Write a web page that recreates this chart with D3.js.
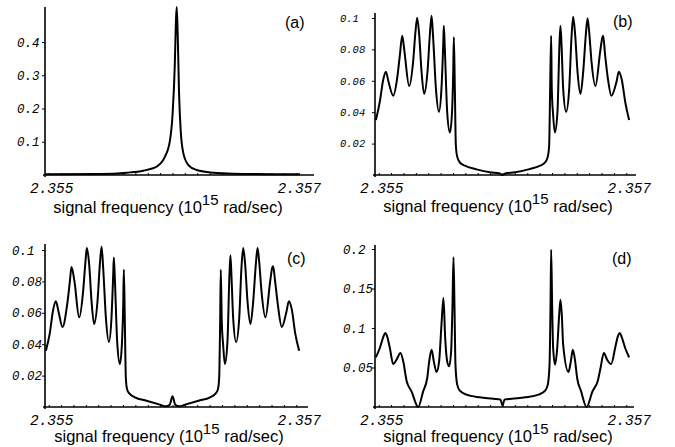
<!DOCTYPE html>
<html>
<head>
<meta charset="utf-8">
<script src="https://cdn.jsdelivr.net/npm/d3@7"></script>
<style>
  body { margin: 0; background: #fff; }
  svg { display: block; }
</style>
</head>
<body>
<div id="chart"></div>
<script>
// frequency axis (10^15 rad/sec) and its labelled ticks
const freqDomain = [2.35497, 2.35703];
const xTickLabels = [2.355, 2.357];

const yTicksA = [0.1, 0.2, 0.3, 0.4];
const yTicksB = [0.02, 0.04, 0.06, 0.08, 0.1];
const yTicksC = [0.02, 0.04, 0.06, 0.08, 0.1];
const yTicksD = [0.05, 0.1, 0.15, 0.2];

// [frequency, signal]
const panelA = [
  [2.354970, 0.002], [2.355414, 0.003], [2.355630, 0.007], [2.355764, 0.013], [2.355872, 0.025],
  [2.355939, 0.055], [2.355980, 0.105], [2.356001, 0.185], [2.356018, 0.325], [2.356028, 0.465],
  [2.356034, 0.505], [2.356042, 0.425], [2.356053, 0.245], [2.356066, 0.135], [2.356088, 0.065],
  [2.356128, 0.030], [2.356195, 0.015], [2.356330, 0.007], [2.356491, 0.004], [2.357030, 0.002]
];

const panelB = [
  [2.354977, 0.0350], [2.355009, 0.0467], [2.355036, 0.0605], [2.355058, 0.0658], [2.355079, 0.0594],
  [2.355117, 0.0505], [2.355149, 0.0616], [2.355171, 0.0764], [2.355190, 0.0887], [2.355208, 0.0786],
  [2.355246, 0.0567], [2.355278, 0.0722], [2.355297, 0.0913], [2.355311, 0.1002], [2.355327, 0.0892],
  [2.355346, 0.0658], [2.355367, 0.0516], [2.355394, 0.0658], [2.355413, 0.0892], [2.355427, 0.1015],
  [2.355440, 0.0870], [2.355462, 0.0552], [2.355486, 0.0403], [2.355507, 0.0552], [2.355521, 0.0828],
  [2.355526, 0.0951], [2.355534, 0.0807], [2.355553, 0.0403], [2.355575, 0.0270], [2.355591, 0.0382],
  [2.355602, 0.0658], [2.355607, 0.0877], [2.355615, 0.0552], [2.355623, 0.0191], [2.355634, 0.0117],
  [2.355655, 0.0081], [2.355696, 0.0059], [2.355790, 0.0036], [2.355898, 0.0017], [2.355978, 0.0010],
  [2.356000, 0.0000],
  [2.356022, 0.0010], [2.356102, 0.0017], [2.356210, 0.0036], [2.356304, 0.0059], [2.356345, 0.0081],
  [2.356366, 0.0117], [2.356377, 0.0191], [2.356385, 0.0552], [2.356393, 0.0887], [2.356398, 0.0552],
  [2.356409, 0.0382], [2.356423, 0.0270], [2.356444, 0.0403], [2.356460, 0.0828], [2.356468, 0.0951],
  [2.356477, 0.0828], [2.356490, 0.0552], [2.356514, 0.0403], [2.356539, 0.0552], [2.356557, 0.0870],
  [2.356571, 0.1008], [2.356587, 0.0892], [2.356606, 0.0658], [2.356630, 0.0516], [2.356652, 0.0658],
  [2.356673, 0.0892], [2.356687, 0.0998], [2.356700, 0.0913], [2.356719, 0.0722], [2.356751, 0.0567],
  [2.356789, 0.0786], [2.356805, 0.0870], [2.356813, 0.0887], [2.356829, 0.0764], [2.356851, 0.0616],
  [2.356880, 0.0505], [2.356921, 0.0594], [2.356940, 0.0658], [2.356964, 0.0605], [2.356991, 0.0467],
  [2.357023, 0.0350]
];

const panelC = [
  [2.354977, 0.0359], [2.355009, 0.0471], [2.355036, 0.0620], [2.355058, 0.0673], [2.355079, 0.0609],
  [2.355111, 0.0510], [2.355149, 0.0652], [2.355171, 0.0800], [2.355184, 0.0892], [2.355208, 0.0800],
  [2.355246, 0.0571], [2.355278, 0.0737], [2.355297, 0.0928], [2.355308, 0.1013], [2.355327, 0.0907],
  [2.355346, 0.0673], [2.355367, 0.0529], [2.355394, 0.0673], [2.355413, 0.0907], [2.355427, 0.1023],
  [2.355440, 0.0885], [2.355462, 0.0567], [2.355486, 0.0414], [2.355507, 0.0567], [2.355521, 0.0843],
  [2.355526, 0.0953], [2.355534, 0.0822], [2.355553, 0.0418], [2.355575, 0.0274], [2.355591, 0.0397],
  [2.355602, 0.0652], [2.355607, 0.0875], [2.355615, 0.0546], [2.355623, 0.0185], [2.355634, 0.0110],
  [2.355655, 0.0083], [2.355696, 0.0062], [2.355790, 0.0040], [2.355898, 0.0015], [2.355946, 0.0004],
  [2.355978, 0.0015], [2.356000, 0.0068], [2.356022, 0.0015], [2.356054, 0.0004], [2.356102, 0.0015],
  [2.356210, 0.0040], [2.356304, 0.0062], [2.356345, 0.0083], [2.356366, 0.0110], [2.356377, 0.0185],
  [2.356385, 0.0546], [2.356390, 0.0875], [2.356398, 0.0546], [2.356409, 0.0397], [2.356423, 0.0274],
  [2.356444, 0.0418], [2.356460, 0.0843], [2.356468, 0.0966], [2.356477, 0.0822], [2.356490, 0.0567],
  [2.356514, 0.0414], [2.356539, 0.0567], [2.356557, 0.0885], [2.356571, 0.1013], [2.356587, 0.0907],
  [2.356606, 0.0673], [2.356630, 0.0529], [2.356652, 0.0673], [2.356673, 0.0907], [2.356687, 0.1013],
  [2.356700, 0.0928], [2.356719, 0.0737], [2.356751, 0.0571], [2.356789, 0.0800], [2.356805, 0.0885],
  [2.356813, 0.0896], [2.356829, 0.0800], [2.356851, 0.0652], [2.356883, 0.0510], [2.356921, 0.0609],
  [2.356940, 0.0673], [2.356964, 0.0620], [2.356991, 0.0471], [2.357023, 0.0359]
];

const panelD = [
  [2.354977, 0.0629], [2.355009, 0.0747], [2.355036, 0.0882], [2.355052, 0.0937], [2.355068, 0.0895],
  [2.355090, 0.0747], [2.355117, 0.0544], [2.355144, 0.0599], [2.355176, 0.0684], [2.355198, 0.0578],
  [2.355225, 0.0333], [2.355265, 0.0198], [2.355319, 0.0000], [2.355359, 0.0198], [2.355392, 0.0367],
  [2.355408, 0.0578], [2.355427, 0.0726], [2.355445, 0.0578], [2.355467, 0.0443], [2.355488, 0.0578],
  [2.355507, 0.1042], [2.355523, 0.1380], [2.355537, 0.0873], [2.355553, 0.0578], [2.355569, 0.0515],
  [2.355585, 0.0705], [2.355596, 0.1295], [2.355604, 0.1895], [2.355612, 0.1295], [2.355620, 0.0536],
  [2.355634, 0.0283], [2.355655, 0.0207], [2.355709, 0.0156], [2.355817, 0.0122], [2.355925, 0.0105],
  [2.355984, 0.0093], [2.356000, 0.0017], [2.356016, 0.0093], [2.356075, 0.0105], [2.356183, 0.0122],
  [2.356291, 0.0156], [2.356345, 0.0207], [2.356366, 0.0283], [2.356380, 0.0536], [2.356388, 0.1295],
  [2.356393, 0.1992], [2.356401, 0.1295], [2.356409, 0.0747], [2.356425, 0.0536], [2.356442, 0.0747],
  [2.356458, 0.1169], [2.356468, 0.1359], [2.356479, 0.1169], [2.356490, 0.0789], [2.356533, 0.0443],
  [2.356552, 0.0578], [2.356568, 0.0726], [2.356587, 0.0578], [2.356603, 0.0367], [2.356635, 0.0198],
  [2.356679, 0.0000], [2.356727, 0.0198], [2.356770, 0.0333], [2.356792, 0.0494], [2.356819, 0.0684],
  [2.356845, 0.0599], [2.356878, 0.0544], [2.356910, 0.0747], [2.356932, 0.0895], [2.356948, 0.0937],
  [2.356964, 0.0882], [2.356991, 0.0747], [2.357023, 0.0629]
];

const width = 675, height = 447;
const plotWidth = 255;

// layout of the four panels
const panels = [
  {tag: "(a)", data: panelA, yTicks: yTicksA, left: 45,  bottom: 175, yRef: [0.4, 42],  axisTop: 7,   axisEnd: 314, yLabelX: 17,  yFont: 12.5, tagX: 285, tagY: 28,  titleX: 168, titleY: 213},
  {tag: "(b)", data: panelB, yTicks: yTicksB, left: 375, bottom: 175, yRef: [0.1, 18],  axisTop: 13,  axisEnd: 636, yLabelX: 340, yFont: 10.5, tagX: 613, tagY: 27,  titleX: 498, titleY: 212},
  {tag: "(c)", data: panelC, yTicks: yTicksC, left: 45,  bottom: 407, yRef: [0.1, 250], axisTop: 244, axisEnd: 308, yLabelX: 12,  yFont: 12.5, tagX: 287, tagY: 264, titleX: 169, titleY: 442},
  {tag: "(d)", data: panelD, yTicks: yTicksD, left: 375, bottom: 407, yRef: [0.2, 249], axisTop: 245, axisEnd: 634, yLabelX: 343, yFont: 12.5, tagX: 612, tagY: 264, titleX: 498, titleY: 442}
];

const svg = d3.select("#chart").append("svg")
    .attr("width", width)
    .attr("height", height)
    .attr("viewBox", `0 0 ${width} ${height}`);

svg.append("rect").attr("width", width).attr("height", height).attr("fill", "#fff");

const isLabelled = d => xTickLabels.some(t => Math.abs(t - d) < 1e-7);

function drawPanel(p) {
    const x = d3.scaleLinear().domain(freqDomain).range([p.left, p.left + plotWidth]);
    const y = d3.scaleLinear().domain([0, p.yRef[0]]).range([p.bottom, p.yRef[1]]);
    const g = svg.append("g");

    // small ticks every 0.0001, labels only at the ends
    const xAxis = d3.axisBottom(x)
        .tickValues(x.ticks(20))
        .tickSize(-2)
        .tickPadding(8)
        .tickFormat(d => isLabelled(d) ? d3.format(".3f")(d) : "");
    g.append("g")
        .attr("transform", `translate(0,${p.bottom})`)
        .call(xAxis)
        .call(a => a.select(".domain").remove())
        .call(a => a.selectAll(".tick text")
            .attr("dx", 2.5)
            .attr("font-family", "'Liberation Mono', 'DejaVu Sans Mono', monospace")
            .attr("font-style", "italic")
            .attr("font-size", 14.5));

    const yAxis = d3.axisLeft(y)
        .tickValues(p.yTicks)
        .tickSize(3)
        .tickFormat(d => d);
    g.append("g")
        .attr("transform", `translate(${p.left},0)`)
        .call(yAxis)
        .call(a => a.select(".domain").remove())
        .call(a => a.selectAll(".tick text")
            .attr("text-anchor", "start")
            .attr("x", p.yLabelX - p.left)
            .attr("font-family", "'Liberation Mono', 'DejaVu Sans Mono', monospace")
            .attr("font-style", "italic")
            .attr("font-size", p.yFont));

    // axis lines
    g.append("line")
        .attr("x1", p.left - 2).attr("x2", p.axisEnd)
        .attr("y1", p.bottom).attr("y2", p.bottom)
        .attr("stroke", "#000").attr("stroke-width", 1.4);
    g.append("line")
        .attr("x1", p.left).attr("x2", p.left)
        .attr("y1", p.bottom + 2).attr("y2", p.axisTop)
        .attr("stroke", "#000").attr("stroke-width", 1.6);

    const line = d3.line()
        .x(d => x(d[0]))
        .y(d => y(d[1]))
        .curve(d3.curveMonotoneX);

    g.append("path")
        .datum(p.data)
        .attr("fill", "none")
        .attr("stroke", "#000")
        .attr("stroke-width", 2)
        .attr("stroke-linejoin", "round")
        .attr("d", line);

    g.append("text")
        .attr("x", p.tagX).attr("y", p.tagY)
        .attr("font-family", "'Liberation Sans', Arial, sans-serif")
        .attr("font-size", 16)
        .text(p.tag);

    const title = g.append("text")
        .attr("x", p.titleX).attr("y", p.titleY)
        .attr("text-anchor", "middle")
        .attr("font-family", "'Liberation Sans', Arial, sans-serif")
        .attr("font-size", 16.5);
    title.append("tspan").text("signal frequency (10");
    title.append("tspan").attr("dy", -8).attr("font-size", 15).text("15");
    title.append("tspan").attr("dy", 8).text(" rad/sec)");
}

panels.forEach(drawPanel);
</script>
</body>
</html>
